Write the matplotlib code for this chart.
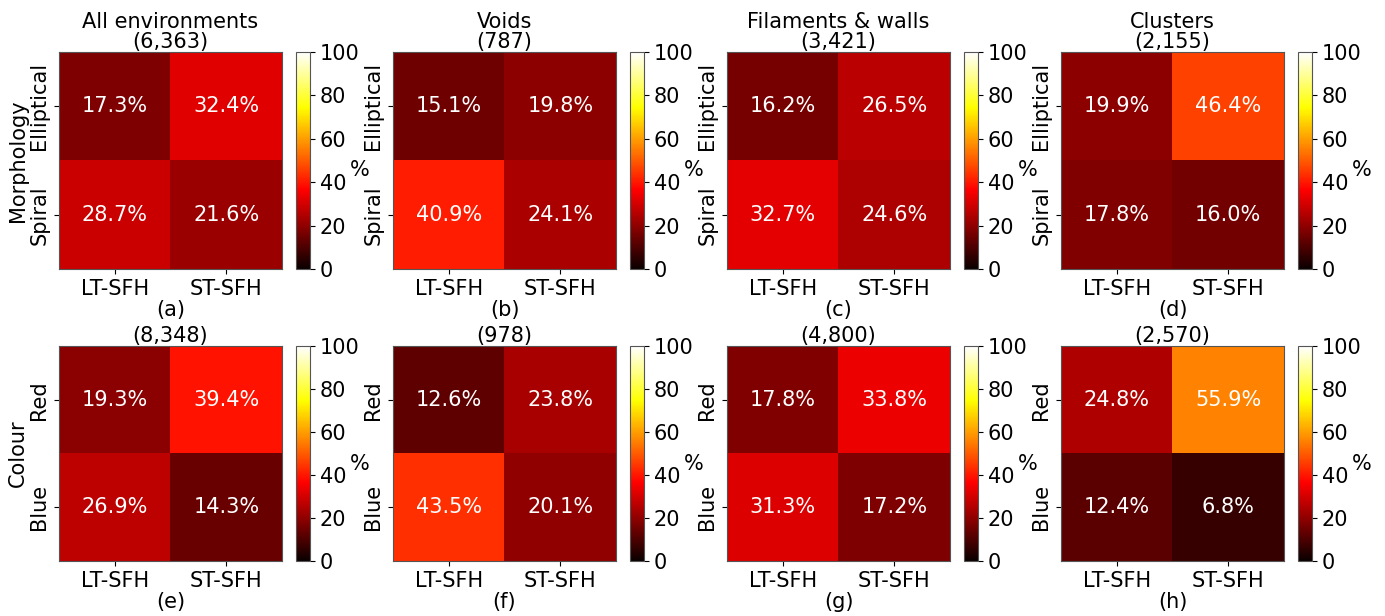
import matplotlib.pyplot as plt
import numpy as np

DPI_RESOLUTION = 100

sfh_labels = ['LT-SFH', 'ST-SFH']
morph_labels = ['Elliptical', 'Spiral']
colour_labels = ['Red', 'Blue']
environments = ['All environments', 'Voids', 'Filaments & walls', 'Clusters']

# percentages, rows = morphology/colour class, cols = SFH type
morph_all = [[17.3, 32.4], [28.7, 21.6]]
morph_voids = [[15.1, 19.8], [40.9, 24.1]]
morph_fil = [[16.2, 26.5], [32.7, 24.6]]
morph_clus = [[19.9, 46.4], [17.8, 16.0]]
colour_all = [[19.3, 39.4], [26.9, 14.3]]
colour_voids = [[12.6, 23.8], [43.5, 20.1]]
colour_fil = [[17.8, 33.8], [31.3, 17.2]]
colour_clus = [[24.8, 55.9], [12.4, 6.8]]

morph_counts = ['6,363', '787', '3,421', '2,155']
colour_counts = ['8,348', '978', '4,800', '2,570']
panel_letters = ['a', 'b', 'c', 'd', 'e', 'f', 'g', 'h']

FS = 15


def draw_matrix(fig, rect, values, ylabels, title, letter, ylabel=None):
    ax = fig.add_axes(rect)
    im = ax.imshow(np.array(values), cmap='hot', vmin=0, vmax=100, aspect='auto')
    for i in range(2):
        for j in range(2):
            ax.text(j, i, f'{values[i][j]:.1f}%', ha='center', va='center',
                    color='white', fontsize=FS)
    ax.set_xticks([0, 1])
    ax.set_xticklabels(sfh_labels, fontsize=FS)
    ax.set_yticks([0, 1])
    ax.set_yticklabels(ylabels, fontsize=FS, rotation=90, va='center')
    ax.set_xlabel(f'({letter})', fontsize=FS, labelpad=1)
    if ylabel:
        ax.set_ylabel(ylabel, fontsize=FS, labelpad=1)
    ax.set_title(title, fontsize=FS, pad=2, linespacing=1.0)
    for s in ax.spines.values():
        s.set_color('#555555')

    l, b, w, h = rect
    cax = fig.add_axes([l + 237 / 1385, b, 14 / 1385, h])
    cb = fig.colorbar(im, cax=cax)
    cb.set_ticks([0, 20, 40, 60, 80, 100])
    cb.ax.tick_params(labelsize=FS)
    cb.set_label('%', fontsize=FS, rotation=0, labelpad=0)
    cb.outline.set_edgecolor('#555555')


fig = plt.figure(figsize=(13.85, 6.16), dpi=DPI_RESOLUTION)

morph_data = [morph_all, morph_voids, morph_fil, morph_clus]
colour_data = [colour_all, colour_voids, colour_fil, colour_clus]
lefts = [59, 393, 727, 1061]
w = 223 / 1385

for k in range(4):
    rect = [lefts[k] / 1385, 1 - 269 / 616, w, 217 / 616]
    draw_matrix(fig, rect, morph_data[k], morph_labels,
                f'{environments[k]}\n({morph_counts[k]})', panel_letters[k],
                'Morphology' if k == 0 else None)
    rect = [lefts[k] / 1385, 1 - 561 / 616, w, 215 / 616]
    draw_matrix(fig, rect, colour_data[k], colour_labels,
                f'({colour_counts[k]})', panel_letters[k + 4],
                'Colour' if k == 0 else None)

fig.savefig('out.png', dpi=DPI_RESOLUTION)
